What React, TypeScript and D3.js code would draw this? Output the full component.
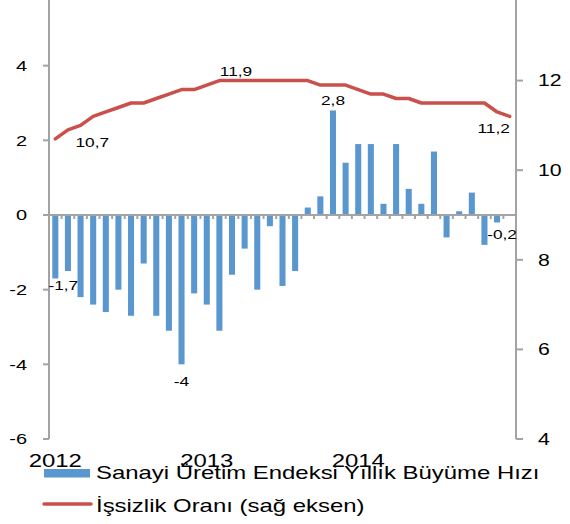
import { useEffect, useRef } from "react";
import * as d3 from "d3";

const months = ["Oca", "Şub", "Mar", "Nis", "May", "Haz", "Tem", "Ağu", "Eyl", "Eki", "Kas", "Ara"];
const years = ["2012", "2013", "2014"];
const categories = [...years.flatMap(y => months.map(m => `${m} ${y}`)), "Oca 2015"];

// Sanayi üretim endeksi yıllık büyüme (%), sol eksen
const production: (number | null)[] = [
  -1.7, -1.5, -2.2, -2.4, -2.6, -2.0, -2.7, -1.3, -2.7, -3.1, -4.0, -2.1,
  -2.4, -3.1, -1.6, -0.9, -2.0, -0.3, -1.9, -1.5, 0.2, 0.5, 2.8, 1.4,
  1.9, 1.9, 0.3, 1.9, 0.7, 0.3, 1.7, -0.6, 0.1, 0.6, -0.8, -0.2,
  null,
];

// İşsizlik oranı (%), sağ eksen
const unemployment = [
  10.7, 10.9, 11.0, 11.2, 11.3, 11.4, 11.5, 11.5, 11.6, 11.7, 11.8, 11.8,
  11.9, 12.0, 12.0, 12.0, 12.0, 12.0, 12.0, 12.0, 12.0, 11.9, 11.9, 11.9,
  11.8, 11.7, 11.7, 11.6, 11.6, 11.5, 11.5, 11.5, 11.5, 11.5, 11.5, 11.3,
  11.2,
];

const leftTicks = [-6, -4, -2, 0, 2, 4];
const rightTicks = [4, 6, 8, 10, 12];
const yearIndex = [0, 12, 24];

const barLabels = [
  { i: 0, text: "-1,7" },
  { i: 10, text: "-4" },
  { i: 22, text: "2,8" },
  { i: 35, text: "-0,2" },
];
const lineLabels = [
  { i: 0, text: "10,7" },
  { i: 14, text: "11,9" },
  { i: 36, text: "11,2" },
];
// label nudges (px) relative to the mark
const barLabelOffsets = [[8, 11.5], [0, 22], [0, -5.5], [5, 16.5]];
const lineLabelOffsets = [[37, 8.5], [4, -5], [-16, 17]];

const legendNames = ["Sanayi Üretim Endeksi Yıllık Büyüme Hızı", "İşsizlik Oranı (sağ eksen)"];

const W = 570, H = 524;
const SX = 1.33;
const FONT = "'Liberation Sans', Arial, sans-serif";
const BLUE = "#5B97CF";
const RED = "#C9504B";
const GREY = "#A3A3A3";

const App = () => {
  const svgRef = useRef<SVGSVGElement>(null);

  useEffect(() => {
    const svg = d3.select(svgRef.current);
    svg.selectAll("*").remove();

    const left = 49, right = 516, top = -9, bottom = 439;

    const x = d3.scaleBand<string>()
      .domain(categories)
      .range([left, right])
      .paddingInner(0.52)
      .paddingOuter(0.26);
    const cx = (i: number) => (x(categories[i]) as number) + x.bandwidth() / 2;

    const yL = d3.scaleLinear().domain([-6, 6]).range([bottom, top]);
    const yR = d3.scaleLinear().domain([4, 14]).range([bottom, top]);

    const text = (s: string, px: number, py: number, size: number, anchor: string) =>
      svg.append("text")
        .attr("transform", `translate(${px},${py}) scale(${SX},1)`)
        .attr("text-anchor", anchor)
        .attr("font-size", size)
        .attr("font-family", FONT)
        .attr("fill", "#000")
        .text(s);

    // bars
    svg.append("g")
      .selectAll("rect")
      .data(production.map((v, i) => ({ v, i })).filter(d => d.v !== null))
      .enter()
      .append("rect")
      .attr("x", d => x(categories[d.i]) as number)
      .attr("width", x.bandwidth())
      .attr("y", d => yL(Math.max(0, d.v as number)))
      .attr("height", d => Math.abs(yL(d.v as number) - yL(0)))
      .attr("fill", BLUE);

    // axes
    const axes = svg.append("g").attr("stroke", GREY).attr("stroke-width", 2);
    axes.append("line").attr("x1", left).attr("x2", left).attr("y1", 0).attr("y2", bottom);
    axes.append("line").attr("x1", right).attr("x2", right).attr("y1", 0).attr("y2", bottom);
    axes.append("line").attr("x1", left).attr("x2", right).attr("y1", yL(0)).attr("y2", yL(0));

    leftTicks.forEach(t => {
      axes.append("line").attr("x1", left - 6).attr("x2", left).attr("y1", yL(t)).attr("y2", yL(t));
      text(String(t), 27, yL(t) + 5.4, 15, "end");
    });
    rightTicks.forEach(t => {
      axes.append("line").attr("x1", right).attr("x2", right + 7).attr("y1", yR(t)).attr("y2", yR(t));
      text(String(t), 538, yR(t) + 5.8, 16, "start");
    });
    d3.range(categories.length + 1).forEach(i => {
      const xb = left + i * x.step();
      axes.append("line").attr("x1", xb).attr("x2", xb).attr("y1", yL(0)).attr("y2", yL(0) + 4);
    });

    // line
    const line = d3.line<number>()
      .x((_, i) => cx(i))
      .y(d => yR(d));
    svg.append("path")
      .datum(unemployment)
      .attr("d", line)
      .attr("fill", "none")
      .attr("stroke", RED)
      .attr("stroke-width", 3.5)
      .attr("stroke-linejoin", "round")
      .attr("stroke-linecap", "round");

    // data labels
    barLabels.forEach((l, k) => {
      const v = production[l.i] as number;
      const [dx, dy] = barLabelOffsets[k];
      text(l.text, cx(l.i) + dx, yL(v) + dy, 13, "middle");
    });
    lineLabels.forEach((l, k) => {
      const [dx, dy] = lineLabelOffsets[k];
      text(l.text, cx(l.i) + dx, yR(unemployment[l.i]) + dy, 13, "middle");
    });

    // year labels
    yearIndex.forEach((idx, k) => text(years[k], cx(idx), 467, 18, "middle"));

    // legend
    svg.append("rect").attr("x", 44).attr("y", 469).attr("width", 46).attr("height", 8.5).attr("fill", BLUE);
    text(legendNames[0], 96, 478.5, 18, "start");
    svg.append("line")
      .attr("x1", 44).attr("x2", 91).attr("y1", 504).attr("y2", 504)
      .attr("stroke", RED).attr("stroke-width", 3.5).attr("stroke-linecap", "round");
    text(legendNames[1], 96, 511.5, 18, "start");
  }, []);

  return (
    <svg
      ref={svgRef}
      width={W}
      height={H}
      style={{ position: "absolute", left: 0, top: 0, background: "#fff" }}
    />
  );
};

export default App;
